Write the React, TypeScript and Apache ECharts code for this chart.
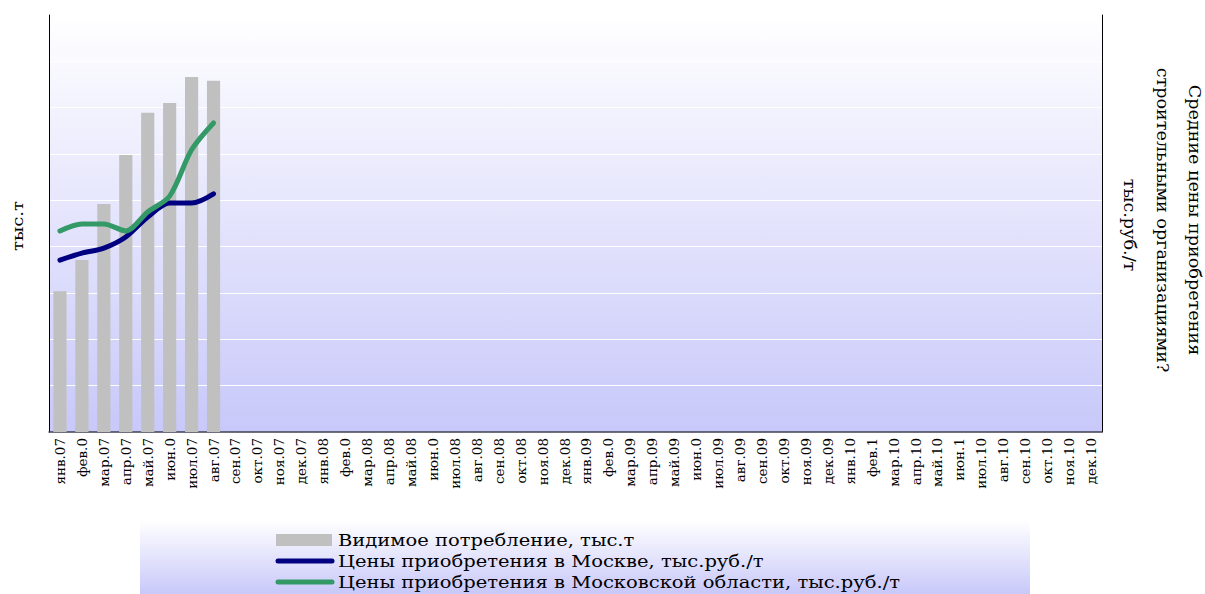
import React, { useEffect, useRef } from "react";
import * as echarts from "echarts";

const categories = [
  "янв.07", "фев.0", "мар.07", "апр.07", "май.07", "июн.0", "июл.07", "авг.07", "сен.07", "окт.07", "ноя.07", "дек.07",
  "янв.08", "фев.0", "мар.08", "апр.08", "май.08", "июн.0", "июл.08", "авг.08", "сен.08", "окт.08", "ноя.08", "дек.08",
  "янв.09", "фев.0", "мар.09", "апр.09", "май.09", "июн.0", "июл.09", "авг.09", "сен.09", "окт.09", "ноя.09", "дек.09",
  "янв.10", "фев.1", "мар.10", "апр.10", "май.10", "июн.1", "июл.10", "авг.10", "сен.10", "окт.10", "ноя.10", "дек.10",
];
const consumption = [3.04, 3.71, 4.92, 5.98, 6.89, 7.1, 7.66, 7.58];
const moscowPrice = [3.71, 3.86, 3.97, 4.21, 4.64, 4.94, 4.94, 5.14];
const regionPrice = [4.34, 4.49, 4.49, 4.34, 4.75, 5.09, 6.09, 6.67];
const seriesNames = [
  "Видимое потребление, тыс.т",
  "Цены приобретения в Москве, тыс.руб./т",
  "Цены приобретения в Московской области, тыс.руб./т",
];
const leftAxisName = "тыс.т";
const rightAxisLines = [
  "Средние цены приобретения",
  "строительными организациями?",
  "тыс.руб./т",
];

const FONT = "DejaVu Serif";

export default function App() {
  const ref = useRef<HTMLDivElement>(null);
  useEffect(() => {
    if (!ref.current) return;
    const chart = echarts.init(ref.current, null, { renderer: "svg" });
    const legendX = 276;
    const legendRows = [540, 561, 582];
    const colors = ["#c0c0c0", "#000080", "#339966"];
    const graphic: any[] = [
      {
        type: "rect",
        left: 140,
        top: 520,
        shape: { width: 890, height: 74 },
        style: {
          fill: new echarts.graphic.LinearGradient(0, 0, 0, 1, [
            { offset: 0, color: "#ffffff" },
            { offset: 1, color: "#c8c8fa" },
          ]),
        },
        z: -1,
      },
      {
        type: "text",
        x: 18,
        y: 226,
        rotation: Math.PI / 2,
        scaleX: 1.2,
        style: { text: leftAxisName, font: `15px '${FONT}'`, fill: "#000", align: "center", verticalAlign: "middle" },
      },
    ];
    const rxs = [1195, 1163, 1130];
    rightAxisLines.forEach((t, i) => {
      graphic.push({
        type: "text",
        x: rxs[i],
        y: i === 2 ? 225 : 220,
        rotation: -Math.PI / 2,
        scaleX: 1.1,
        style: { text: t, font: `16px '${FONT}'`, fill: "#000", align: "center", verticalAlign: "middle" },
      });
    });
    seriesNames.forEach((n, i) => {
      const y = legendRows[i];
      if (i === 0) {
        graphic.push({ type: "rect", shape: { x: legendX, y: y - 6, width: 56, height: 12 }, style: { fill: colors[0] } });
      } else {
        graphic.push({
          type: "line",
          shape: { x1: legendX + 2, y1: y, x2: legendX + 56, y2: y },
          style: { stroke: colors[i], lineWidth: 5, lineCap: "round" },
        });
      }
      graphic.push({
        type: "text",
        x: 338,
        y,
        scaleX: 1.22,
        style: { text: n, font: `16px '${FONT}'`, fill: "#000", verticalAlign: "middle" },
      });
    });

    chart.setOption({
      animation: false,
      grid: {
        left: 49,
        right: 103,
        top: 15,
        bottom: 162,
        show: true,
        borderWidth: 0,
        backgroundColor: new echarts.graphic.LinearGradient(0, 0, 0, 1, [
          { offset: 0, color: "#ffffff" },
          { offset: 1, color: "#c8c8fa" },
        ]),
      },
      xAxis: {
        type: "category",
        data: categories,
        axisLine: { lineStyle: { color: "#404050", width: 1.5 } },
        axisTick: { show: false },
        axisLabel: { rotate: 90, interval: 0, fontFamily: FONT, fontSize: 13.5, color: "#000", margin: 6 },
      },
      yAxis: [
        {
          type: "value",
          min: 0,
          max: 9,
          interval: 1,
          axisLabel: { show: false },
          axisTick: { show: false },
          axisLine: { show: true, lineStyle: { color: "#000" } },
          splitLine: { show: true, lineStyle: { color: "#ffffff", width: 1 } },
        },
        {
          type: "value",
          min: 0,
          max: 9,
          interval: 1,
          position: "right",
          axisLabel: { show: false },
          axisTick: { show: false },
          axisLine: { show: true, lineStyle: { color: "#000" } },
          splitLine: { show: false },
        },
      ],
      series: [
        {
          name: seriesNames[0],
          type: "bar",
          data: consumption,
          barCategoryGap: "40%",
          itemStyle: { color: colors[0] },
        },
        {
          name: seriesNames[1],
          type: "line",
          yAxisIndex: 1,
          data: moscowPrice,
          smooth: 0.3,
          showSymbol: false,
          lineStyle: { color: colors[1], width: 5, cap: "round" },
        },
        {
          name: seriesNames[2],
          type: "line",
          yAxisIndex: 1,
          data: regionPrice,
          smooth: 0.3,
          showSymbol: false,
          lineStyle: { color: colors[2], width: 5, cap: "round" },
        },
      ],
      graphic,
    });
    return () => chart.dispose();
  }, []);
  return <div ref={ref} style={{ width: 1205, height: 594, position: "absolute", left: 0, top: 0 }} />;
}
